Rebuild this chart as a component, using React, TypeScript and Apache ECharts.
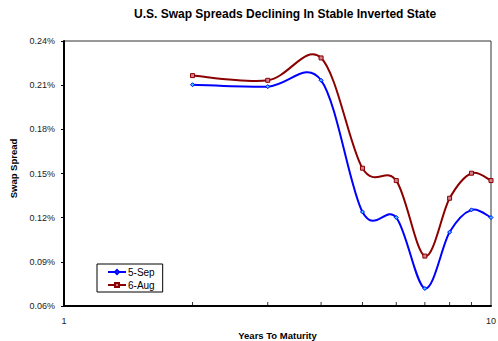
import React, { useEffect, useRef } from "react";
import * as echarts from "echarts";

const years = [2, 3, 4, 5, 6, 7, 8, 9, 10];
const sep5 = [0.2103, 0.209, 0.2133, 0.1239, 0.1201, 0.0719, 0.1102, 0.1253, 0.1201];
const aug6 = [0.2165, 0.2133, 0.2285, 0.1536, 0.1452, 0.0939, 0.1332, 0.1502, 0.1452];
const minorTicks = [2, 3, 4, 5, 6, 7, 8, 9];
const yTicks = { min: 0.06, max: 0.24, interval: 0.03 };

const FONT = "Liberation Sans";
const BLUE = "#0000ff";
const RED = "#8b0000";

function smoothPath(api: any, xs: number[], ys: number[]) {
  const pts = xs.map((x, i) => api.coord([x, ys[i]]));
  let d = `M${pts[0][0]},${pts[0][1]}`;
  for (let i = 0; i < pts.length - 1; i++) {
    const p0 = pts[Math.max(0, i - 1)];
    const p1 = pts[i];
    const p2 = pts[i + 1];
    const p3 = pts[Math.min(pts.length - 1, i + 2)];
    const c1x = p1[0] + (p2[0] - p0[0]) / 6;
    const c1y = p1[1] + (p2[1] - p0[1]) / 6;
    const c2x = p2[0] - (p3[0] - p1[0]) / 6;
    const c2y = p2[1] - (p3[1] - p1[1]) / 6;
    d += ` C${c1x},${c1y} ${c2x},${c2y} ${p2[0]},${p2[1]}`;
  }
  return d;
}

function curveSeries(values: number[], color: string) {
  return {
    type: "custom",
    silent: true,
    data: years.map((y, i) => [y, values[i]]),
    encode: { x: 0, y: 1 },
    renderItem: (params: any, api: any) => {
      if (params.dataIndex !== 0) return { type: "group", children: [] };
      return {
        type: "path",
        shape: { pathData: smoothPath(api, years, values) },
        style: { stroke: color, lineWidth: 2, fill: "none" },
      };
    },
    z: 2,
  };
}

export default function App() {
  const ref = useRef<HTMLDivElement>(null);
  useEffect(() => {
    const chart = echarts.init(ref.current!, null, { renderer: "svg" });
    chart.setOption({
      animation: false,
      backgroundColor: "#fff",
      title: {
        text: "U.S. Swap Spreads Declining In Stable Inverted State",
        left: 134,
        top: 8,
        padding: 0,
        textStyle: { fontFamily: FONT, fontSize: 12, fontWeight: "bold", color: "#000" },
      },
      grid: {
        left: 64,
        right: 7,
        top: 41,
        bottom: 35,
        outerBoundsMode: "none",
        containLabel: false,
        show: true,
        borderColor: "#333",
        borderWidth: 1,
        backgroundColor: "transparent",
      },
      legend: {
        orient: "vertical",
        left: 97,
        top: 264,
        padding: [3, 8, 2, 10],
        itemGap: 3,
        itemWidth: 18,
        itemHeight: 5,
        borderColor: "#000",
        borderWidth: 1,
        textStyle: { fontFamily: FONT, fontSize: 10, color: "#000", padding: [0, 0, 0, -3] },
        data: [
          { name: "5-Sep", lineStyle: { color: BLUE, width: 2, opacity: 1 } },
          { name: "6-Aug", lineStyle: { color: RED, width: 2, opacity: 1 } },
        ],
      },
      xAxis: {
        type: "log",
        logBase: 10,
        min: 1,
        max: 10,
        name: "Years To Maturity",
        nameLocation: "middle",
        nameGap: 24,
        nameTextStyle: { fontFamily: FONT, fontSize: 9.5, fontWeight: "bold", color: "#000" },
        axisLine: { lineStyle: { color: "#000", width: 2 } },
        axisTick: { show: false },
        axisLabel: { fontFamily: FONT, fontSize: 9, color: "#222", margin: 10 },
        splitLine: { show: false },
        minorTick: { show: false },
      },
      yAxis: {
        type: "value",
        min: yTicks.min,
        max: yTicks.max,
        interval: yTicks.interval,
        name: "Swap Spread",
        nameLocation: "middle",
        nameGap: 40,
        nameTextStyle: { fontFamily: FONT, fontSize: 9.5, fontWeight: "bold", color: "#000", padding: [0, 0, 0, 10] },
        axisLine: { show: true, lineStyle: { color: "#000", width: 2 } },
        axisTick: { show: true, inside: false, length: 3, lineStyle: { color: "#000" } },
        axisLabel: {
          fontFamily: FONT,
          fontSize: 9,
          color: "#222",
          margin: 9,
          formatter: (v: number) => v.toFixed(2) + "%",
        },
        splitLine: { show: false },
      },
      series: [
        curveSeries(sep5, BLUE),
        curveSeries(aug6, RED),
        {
          name: "5-Sep",
          type: "line",
          data: years.map((y, i) => [y, sep5[i]]),
          lineStyle: { color: BLUE, width: 2, opacity: 0 },
          symbol: "diamond",
          symbolSize: 4,
          itemStyle: { color: "#33ccff", borderColor: BLUE, borderWidth: 1 },
          z: 3,
        },
        {
          name: "6-Aug",
          type: "line",
          data: years.map((y, i) => [y, aug6[i]]),
          lineStyle: { color: RED, width: 2, opacity: 0 },
          symbol: "rect",
          symbolSize: 4,
          itemStyle: { color: "#d08090", borderColor: RED, borderWidth: 1 },
          z: 3,
        },
        {
          name: "ticks",
          type: "scatter",
          silent: true,
          data: minorTicks.map((t) => [t, yTicks.min]),
          symbol: "rect",
          symbolSize: [1, 4],
          symbolOffset: [0, -2],
          itemStyle: { color: "#000" },
          z: 1,
        },
      ],
    });
    return () => chart.dispose();
  }, []);
  return <div ref={ref} style={{ width: 498, height: 341, position: "absolute", left: 0, top: 0 }} />;
}
